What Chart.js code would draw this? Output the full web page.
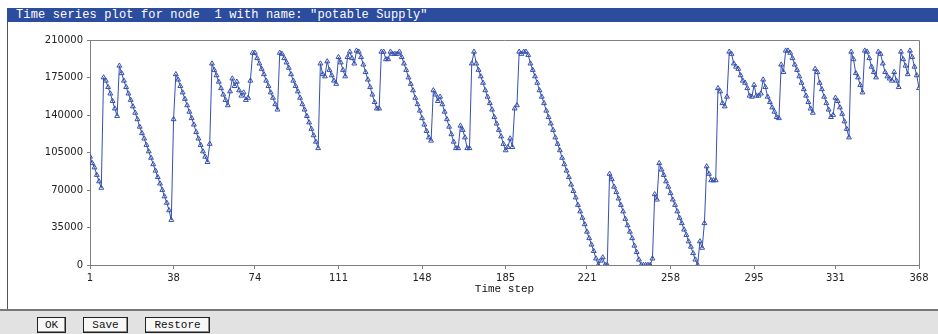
<!DOCTYPE html>
<html>
<head>
<meta charset="utf-8">
<script src="https://cdn.jsdelivr.net/npm/chart.js@4"></script>
<style>
  html, body { margin: 0; padding: 0; background: #fff; }
  body { width: 938px; height: 334px; position: relative; overflow: hidden; }
  .frame { position: absolute; left: 7px; top: 8px; width: 931px; height: 302px; border-left: 1px solid #555; box-sizing: border-box; }
  .titleBar {
    position: absolute; left: 7px; top: 8px; width: 931px; height: 14px;
    background: #2c4c9e; color: #fff;
    font: 12px "Liberation Mono", monospace; line-height: 14px; letter-spacing: 0.15px;
    padding-left: 9px; box-sizing: border-box; white-space: pre;
  }
  .chartBox { position: absolute; left: 0; top: 22px; width: 938px; height: 288px; }
  .toolbar { position: absolute; left: 0; top: 309px; width: 938px; height: 25px; background: #e2e2e2; border-top: 2px solid #777; box-sizing: border-box; }
  .btn {
    position: absolute; top: 6px; height: 16px; box-sizing: border-box;
    background: #f7f7f7; border: 1px solid #222; box-shadow: inset -1px -1px 0 #888;
    font: 11px "Liberation Mono", monospace; line-height: 14px; text-align: center; color: #111;
  }
</style>
</head>
<body>
<div class="frame"></div>
<div class="titleBar" id="title"></div>
<div class="chartBox"><canvas id="chart"></canvas></div>
<div class="toolbar">
  <div class="btn" style="left:37px;width:29px">OK</div>
  <div class="btn" style="left:83px;width:45px">Save</div>
  <div class="btn" style="left:145px;width:65px">Restore</div>
</div>
<script>
const chartTitle = 'Time series plot for node  1 with name: "potable Supply"';
const xAxisTitle = "Time step";
const xTickSteps = [1, 38, 74, 111, 148, 185, 221, 258, 295, 331, 368];
const yTickValues = [0, 35000, 70000, 105000, 140000, 175000, 210000];

// storage per time step
const supply = [
  101000, 95000, 91000, 84000, 78000, 72000,
  175000, 172000, 166000, 160000, 153000, 146000, 139000,
  186000, 179000, 172000, 166000, 160000, 154000, 148000, 142000, 136000, 129000,
  123000, 118000, 112000, 106000, 100000, 94000, 88000, 82000, 76000, 70000,
  64000, 58000, 51000, 42000,
  136000, 178000,
  173000, 167000, 161000, 155000, 149000, 143000, 137000, 131000, 124000, 118000,
  112000, 106000, 101000, 96000,
  113000, 188000,
  182000, 177000, 171000, 165000, 159000, 154000, 149000,
  162000, 174000, 167000, 171000, 163000, 158000, 161000, 154000, 156000, 172000, 198000, 198000,
  193000, 188000, 183000, 178000, 172000, 167000, 161000, 156000, 150000, 145000,
  198000, 197000, 193000,
  189000, 184000, 178000, 172000, 167000, 162000, 156000, 150000, 145000, 139000,
  133000, 127000, 121000, 115000, 109000,
  188000, 178000, 176000, 190000, 182000, 177000, 172000, 169000, 194000, 189000,
  182000, 176000, 194000, 199000, 193000, 188000, 200000, 199000, 194000,
  187000, 180000, 173000, 166000, 159000, 152000, 146000, 146000,
  199000, 199000, 192000, 192000, 199000, 197000, 197000, 197000, 199000, 194000,
  188000, 182000, 175000, 169000, 163000, 156000, 150000, 144000, 137000, 131000,
  125000, 119000, 116000,
  163000, 159000, 153000, 157000, 150000,
  143000, 136000, 129000, 122000, 115000, 109000, 109000,
  130000, 126000, 119000, 109000, 109000,
  188000, 199000, 188000,
  182000, 176000, 170000, 163000, 157000, 151000, 145000, 138000, 132000, 126000,
  120000, 113000, 107000,
  110000, 118000, 110000, 146000, 149000, 199000, 197000, 199000, 199000, 196000, 188000,
  182000, 176000, 170000, 163000, 157000, 151000, 144000, 138000, 132000, 126000,
  119000, 113000, 107000, 100000, 94000, 88000, 82000, 75000, 69000, 63000,
  56000, 50000, 44000, 38000, 31000, 25000, 19000, 13000, 6000, 0,
  4000, 7000, 0, 0,
  85000, 80000, 73000, 68000, 62000, 56000, 50000, 43000, 37000, 31000,
  25000, 18000, 12000, 5000, 0, 0, 0, 0, 0,
  6000, 66000, 61000, 95000, 89000,
  84000, 78000, 73000, 67000, 61000, 56000, 50000, 44000, 39000, 33000,
  28000, 22000, 17000, 11000, 5000, 0,
  22000, 16000, 39000, 92000, 85000, 79000, 79000, 79000,
  165000, 162000, 151000, 148000, 157000,
  199000, 197000, 188000, 185000, 183000, 177000, 172000, 170000, 165000, 158000,
  157000, 168000, 158000, 158000, 160000, 173000, 166000, 157000, 152000, 147000,
  143000, 138000, 137000, 187000, 180000,
  200000, 200000, 198000, 193000, 187000, 182000, 176000, 170000, 164000, 158000,
  152000, 146000, 142000,
  183000, 180000, 170000, 164000, 157000, 151000, 145000, 138000, 140000, 156000,
  153000, 147000, 141000, 134000, 127000, 119000,
  199000, 192000, 179000, 175000, 168000, 161000, 200000, 199000, 193000, 185000,
  180000, 175000, 199000, 197000, 188000, 180000, 176000, 174000, 172000, 180000,
  172000, 166000, 199000, 192000, 186000, 178000, 200000, 194000, 185000, 177000,
  165000
];
const steps = supply.map((_, i) => i + 1);

document.getElementById("title").textContent = chartTitle;

Chart.defaults.font.family = "'DejaVu Sans', sans-serif";
Chart.defaults.font.size = 10;
Chart.defaults.color = "#222";

const lineColor = "#3550ae";
const axisColor = "#808080";

// gray box round the plot area (top and right sides)
const plotFrame = {
  id: "plotFrame",
  afterDraw(chart) {
    const { ctx, chartArea } = chart;
    ctx.save();
    ctx.strokeStyle = axisColor;
    ctx.lineWidth = 1;
    ctx.beginPath();
    ctx.moveTo(chartArea.left, chartArea.top + 0.5);
    ctx.lineTo(chartArea.right + 0.5, chartArea.top + 0.5);
    ctx.lineTo(chartArea.right + 0.5, chartArea.bottom);
    ctx.stroke();
    ctx.restore();
  },
};

new Chart(document.getElementById("chart"), {
  type: "line",
  data: {
    datasets: [
      {
        data: steps.map((s, i) => ({ x: s, y: supply[i] })),
        borderColor: lineColor,
        borderWidth: 1,
        pointStyle: "triangle",
        pointRadius: 2.8,
        pointBorderWidth: 1,
        pointBorderColor: lineColor,
        pointBackgroundColor: "rgba(255,255,255,0)",
        tension: 0,
      },
    ],
  },
  options: {
    responsive: true,
    maintainAspectRatio: false,
    animation: false,
    layout: { padding: { left: 0, right: 19, top: 18, bottom: 0 } },
    plugins: {
      legend: { display: false },
      tooltip: { enabled: false },
    },
    scales: {
      x: {
        type: "linear",
        min: 1,
        max: 368,
        afterBuildTicks: (scale) => {
          scale.ticks = xTickSteps.map((v) => ({ value: v }));
        },
        afterFit: (scale) => {
          scale.height = 45;
        },
        border: { color: axisColor, width: 1 },
        grid: { drawOnChartArea: false, drawTicks: true, tickLength: 4, color: axisColor },
        ticks: { autoSkip: false, maxRotation: 0, padding: 3, callback: (v) => String(v) },
        title: {
          display: true,
          text: xAxisTitle,
          font: { family: "'Liberation Mono', monospace", size: 11 },
          color: "#111",
          padding: { top: 0, bottom: 14 },
        },
      },
      y: {
        min: 0,
        max: 210000,
        afterBuildTicks: (scale) => {
          scale.ticks = yTickValues.map((v) => ({ value: v }));
        },
        afterFit: (scale) => {
          scale.width = 90;
        },
        border: { color: axisColor, width: 1 },
        grid: { drawOnChartArea: false, drawTicks: true, tickLength: 3, color: axisColor },
        ticks: { padding: 4, callback: (v) => String(v) },
      },
    },
  },
  plugins: [plotFrame],
});
</script>
</body>
</html>
